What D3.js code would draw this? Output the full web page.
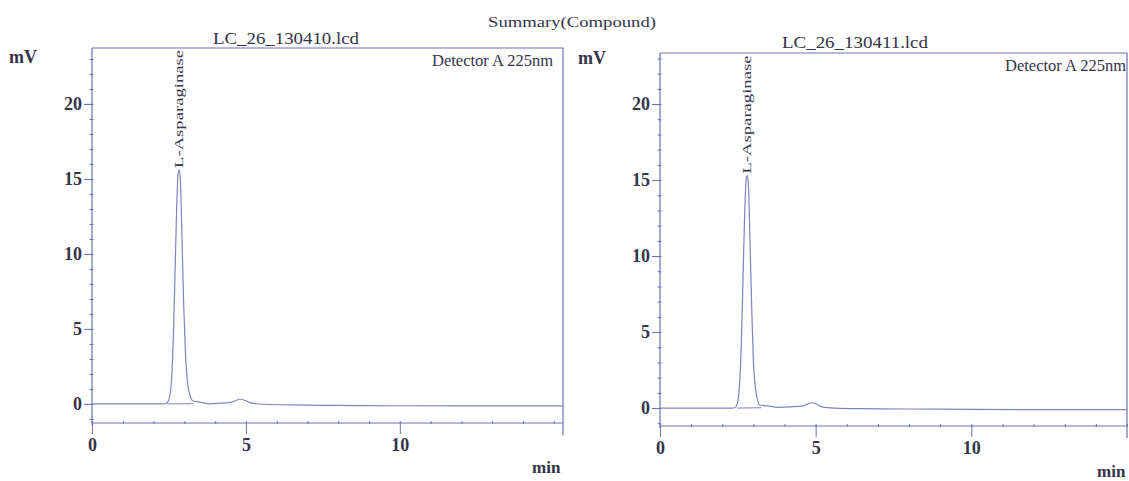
<!DOCTYPE html>
<html>
  <head>
    <title>Summary(Compound)</title>
    <style type="text/css">
        html, body{
            padding: 0px;
            margin: 0px;
            background: #ffffff;
        }
        svg text{
            font-family: "Liberation Serif", "Times New Roman", serif;
            fill: #34344a;
        }
    </style>
  </head>
  <body>
    <svg id="vis" width="1129" height="481"></svg>
    <script src="https://cdnjs.cloudflare.com/ajax/libs/d3/7.8.5/d3.min.js"></script>
    <script type="text/javascript">

        // values (time in min, signal in mV)
        var leftTime = [0, 1, 2, 2.3, 2.4, 2.5, 2.58, 2.65, 2.7, 2.75, 2.8, 2.84, 2.88, 2.93, 2.98, 3.04, 3.1, 3.18, 3.28, 3.5, 3.83, 4.2, 4.5, 4.7, 4.8, 4.95, 5.2, 5.6, 6.5, 8, 10, 12, 14, 15.3];
        var leftMv   = [0, 0, 0, 0.01, 0.03, 0.3, 1.5, 5, 9, 13, 15.4, 15.6, 14.5, 10.5, 6.5, 3.2, 1.5, 0.6, 0.2, 0.13, 0.0, 0.05, 0.1, 0.25, 0.33, 0.25, 0.05, -0.02, -0.06, -0.1, -0.12, -0.13, -0.13, -0.13];

        var rightTime = [0, 1, 2, 2.3, 2.4, 2.47, 2.55, 2.62, 2.67, 2.72, 2.77, 2.81, 2.85, 2.9, 2.95, 3.0, 3.06, 3.13, 3.2, 3.43, 3.8, 4.2, 4.6, 4.8, 4.87, 5.0, 5.2, 5.6, 6.5, 8, 10, 12, 14, 15];
        var rightMv   = [0, 0, 0, 0, 0.02, 0.2, 1.4, 4.8, 8.8, 12.8, 15.1, 15.3, 14.2, 10.2, 6.3, 3.1, 1.4, 0.55, 0.2, 0.15, 0.05, 0.08, 0.15, 0.3, 0.35, 0.28, 0.08, 0.0, -0.04, -0.06, -0.08, -0.1, -0.1, -0.1];

        // integration baselines under the main peak
        var leftBaseTime = [2.45, 3.3];
        var leftBaseMv = [0, 0.02];
        var rightBaseTime = [2.47, 3.25];
        var rightBaseMv = [0, 0.02];

        var peakName = "L-Asparaginase";
        var leftPeak = [2.82, 15.6];
        var rightPeak = [2.8, 15.3];

        var yMajor = [0, 5, 10, 15, 20];
        var xMajor = [0, 5, 10];

        var axisColor = "#6f71b3";
        var traceColor = "#8183c0";

        var svg = d3.select("#vis");

        svg.append("text")
            .attr("x", 572).attr("y", 27)
            .attr("text-anchor", "middle")
            .attr("font-size", 15)
            .attr("textLength", 168)
            .attr("lengthAdjust", "spacingAndGlyphs")
            .text("Summary(Compound)");

        function drawPanel(p){
            var x = d3.scaleLinear().domain(p.xDomain).range(p.xRange);
            var y = d3.scaleLinear().domain(p.yDomain).range(p.yRange);
            var g = svg.append("g");

            var x0 = p.xRange[0], x1 = p.xRange[1];
            var yTop = p.yRange[1], yBot = p.yRange[0];

            // frame: top and right border
            g.append("path")
                .attr("d", "M" + x0 + "," + yTop + "H" + x1 + "V" + (yBot + 12))
                .attr("fill", "none")
                .attr("stroke", axisColor)
                .attr("stroke-width", 1.2);

            // y axis with minor ticks every 1 mV
            var yAxis = d3.axisLeft(y)
                .tickValues(d3.range(Math.ceil(p.yDomain[0]), Math.floor(p.yDomain[1]) + 1))
                .tickSize(4)
                .tickFormat("");
            g.append("g")
                .attr("transform", "translate(" + (x0 + 1.5) + ",0)")
                .call(yAxis)
                .call(s => s.select(".domain").remove())
                .selectAll("line").attr("stroke", axisColor);

            var yAxisMajor = d3.axisLeft(y)
                .tickValues(yMajor)
                .tickSize(8)
                .tickPadding(2);
            var ya = g.append("g")
                .attr("transform", "translate(" + x0 + ",0)")
                .call(yAxisMajor);
            ya.select(".domain").remove();
            ya.selectAll("line").attr("stroke", axisColor);
            ya.selectAll("text")
                .attr("font-size", 18)
                .attr("font-family", "Liberation Serif")
                .attr("fill", "#34344a")
                .attr("font-weight", "bold");

            g.append("line")
                .attr("x1", x0).attr("x2", x0)
                .attr("y1", yTop).attr("y2", yBot + 2)
                .attr("stroke", axisColor).attr("stroke-width", 1.2);

            // x axis with minor ticks every 1 min
            var xAxis = d3.axisBottom(x)
                .tickValues(d3.range(0, Math.floor(p.xDomain[1]) + 1))
                .tickSize(3)
                .tickFormat("");
            var xm = g.append("g")
                .attr("transform", "translate(0," + (yBot - 2) + ")")
                .call(xAxis);
            xm.select(".domain").remove();
            xm.selectAll("line").attr("stroke", axisColor);

            var xAxisMajor = d3.axisBottom(x)
                .tickValues(xMajor)
                .tickSize(11)
                .tickPadding(4);
            var xa = g.append("g")
                .attr("transform", "translate(0," + yBot + ")")
                .call(xAxisMajor);
            xa.select(".domain").remove();
            xa.selectAll("line").attr("stroke", axisColor);
            xa.selectAll("text")
                .attr("font-size", 18)
                .attr("font-family", "Liberation Serif")
                .attr("fill", "#34344a")
                .attr("font-weight", "bold");

            g.append("line")
                .attr("x1", x0).attr("x2", x1)
                .attr("y1", yBot).attr("y2", yBot)
                .attr("stroke", axisColor).attr("stroke-width", 1.2);

            // trace
            var pts = p.time.map((t, i) => [t, p.mv[i]]);
            var line = d3.line()
                .x(d => x(d[0]))
                .y(d => y(d[1]))
                .curve(d3.curveMonotoneX);
            g.append("path")
                .datum(pts)
                .attr("d", line)
                .attr("fill", "none")
                .attr("stroke", traceColor)
                .attr("stroke-width", 1.2);

            var base = p.baseTime.map((t, i) => [t, p.baseMv[i]]);
            g.append("path")
                .datum(base)
                .attr("d", d3.line().x(d => x(d[0])).y(d => y(d[1])))
                .attr("fill", "none")
                .attr("stroke", traceColor)
                .attr("stroke-width", 1);

            // peak label
            var lx = x(p.peak[0]) + 4, ly = y(p.peak[1]) - 2;
            g.append("text")
                .attr("transform", "translate(" + lx + "," + ly + ") rotate(-90)")
                .attr("font-size", 13)
                .attr("textLength", 118)
                .attr("lengthAdjust", "spacingAndGlyphs")
                .text(peakName);

            // texts
            g.append("text")
                .attr("x", p.titleX).attr("y", p.titleY)
                .attr("font-size", 16)
                .attr("textLength", 146)
                .attr("lengthAdjust", "spacingAndGlyphs")
                .text(p.title);

            g.append("text")
                .attr("x", p.detX).attr("y", p.detY)
                .attr("text-anchor", "end")
                .attr("font-size", 16)
                .attr("textLength", 121)
                .attr("lengthAdjust", "spacingAndGlyphs")
                .text("Detector A 225nm");

            g.append("text")
                .attr("x", p.mvX).attr("y", p.mvY)
                .attr("font-size", 18)
                .attr("font-weight", "bold")
                .text("mV");

            g.append("text")
                .attr("x", p.minX).attr("y", p.minY)
                .attr("font-size", 17)
                .attr("font-weight", "bold")
                .text("min");
        }

        drawPanel({
            time: leftTime, mv: leftMv,
            baseTime: leftBaseTime, baseMv: leftBaseMv,
            peak: leftPeak,
            xDomain: [0, 15.3], xRange: [92, 563],
            yDomain: [-1.27, 23.73], yRange: [423, 48],
            title: "LC_26_130410.lcd", titleX: 213, titleY: 44,
            detX: 553, detY: 66,
            mvX: 9, mvY: 63,
            minX: 532, minY: 473
        });

        drawPanel({
            time: rightTime, mv: rightMv,
            baseTime: rightBaseTime, baseMv: rightBaseMv,
            peak: rightPeak,
            xDomain: [0, 15], xRange: [660, 1127],
            yDomain: [-1.18, 23.36], yRange: [426, 53],
            title: "LC_26_130411.lcd", titleX: 782, titleY: 48,
            detX: 1126, detY: 71,
            mvX: 578, mvY: 64,
            minX: 1097, minY: 477
        });

    </script>
  </body>
</html>
